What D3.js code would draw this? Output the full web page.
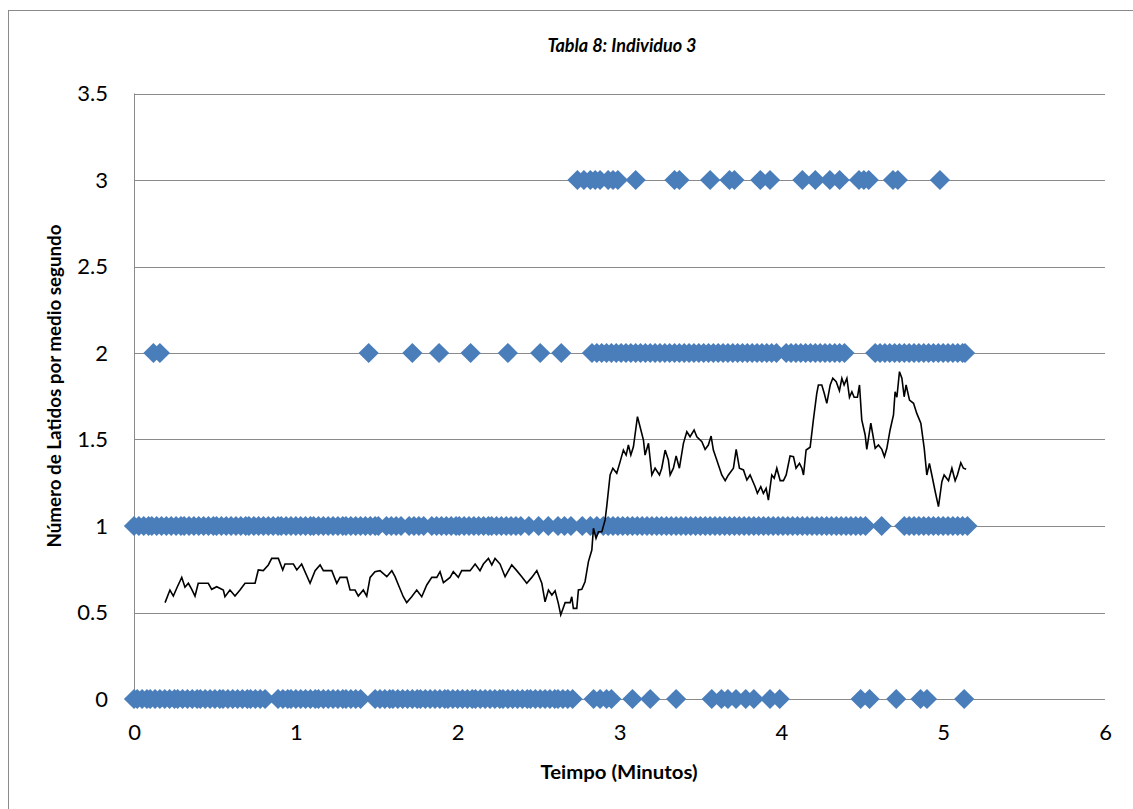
<!DOCTYPE html>
<html>
<head>
<meta charset="utf-8">
<script src="https://cdn.jsdelivr.net/npm/d3@7"></script>
<style>
  html, body { margin: 0; padding: 0; background: #fff; }
  svg { display: block; }
</style>
</head>
<body>
<svg id="chart" width="1133" height="809"></svg>
<script>
// ---------------- DATA ----------------
const chartTitle = "Tabla 8: Individuo 3";
const xTitle = "Teimpo (Minutos)";
const yTitle = "Número de Latidos por medio segundo";
const xTicks = [0, 1, 2, 3, 4, 5, 6];
const yTicks = [0, 0.5, 1, 1.5, 2, 2.5, 3, 3.5];

// Scatter points (time in minutes) at each beat level
const level0 = [0.00,0.02,0.05,0.08,0.10,0.13,0.16,0.19,0.22,0.25,0.27,0.30,0.33,0.36,0.39,0.41,0.44,0.47,0.50,0.53,0.55,0.58,0.61,0.64,0.67,0.70,0.72,0.75,0.78,0.81,
  0.89,0.92,0.95,0.97,1.00,1.03,1.06,1.09,1.12,1.14,1.17,1.20,1.23,1.26,1.29,1.31,1.34,1.37,1.40,
  1.49,1.52,1.55,1.58,1.60,1.63,1.66,1.69,1.72,1.75,1.77,1.80,1.83,1.86,1.89,1.92,1.94,1.97,2.00,2.03,2.06,2.09,2.11,2.14,2.17,2.20,2.23,2.26,2.28,2.31,2.34,2.37,2.40,2.43,2.45,2.48,2.51,2.54,2.57,2.60,2.62,2.65,2.68,2.71,
  2.84,2.88,2.92,2.95,3.08,3.19,3.35,3.57,3.63,3.67,3.72,3.78,3.83,3.93,3.99,4.49,4.545,4.71,4.86,4.90,5.13];
const level1 = [0.00,0.03,0.06,0.09,0.11,0.14,0.17,0.20,0.23,0.26,0.29,0.31,0.34,0.37,0.40,0.43,0.46,0.49,0.51,0.54,0.57,0.60,0.63,0.66,0.69,0.71,0.74,0.77,0.80,0.83,0.86,0.89,0.91,0.94,0.97,1.00,1.03,1.06,1.09,1.11,1.14,1.17,1.20,1.23,1.26,1.29,1.31,1.34,1.37,1.40,1.43,1.46,1.49,1.51,1.56,1.59,1.62,1.65,1.70,1.73,1.76,1.79,1.84,1.87,1.90,1.93,1.96,1.99,2.01,2.04,2.07,2.10,2.13,2.16,2.19,2.21,2.24,2.27,2.30,2.33,2.36,2.39,2.44,2.50,2.56,2.62,2.66,2.70,2.77,2.82,2.86,2.90,2.93,2.96,2.99,3.02,3.05,3.08,3.11,3.14,3.17,3.20,3.23,3.26,3.29,3.32,3.35,3.38,3.41,3.44,3.47,3.50,3.53,3.56,3.59,3.62,3.65,3.68,3.71,3.74,3.77,3.80,3.83,3.86,3.89,3.92,3.95,3.98,4.01,4.04,4.07,4.10,4.13,4.16,4.19,4.22,4.25,4.28,4.31,4.34,4.37,4.40,4.43,4.46,4.49,4.52,4.62,4.76,4.79,4.82,4.85,4.88,4.91,4.94,4.97,5.00,5.03,5.06,5.09,5.12,5.15];
const level2 = [0.12,0.16,1.45,1.72,1.885,2.08,2.31,2.51,2.64,
  2.83,2.86,2.89,2.92,2.95,2.98,3.01,3.04,3.07,3.10,3.13,3.16,3.19,3.22,3.25,3.28,3.31,3.34,3.37,3.40,3.43,3.46,3.49,3.52,3.55,3.58,3.61,3.64,3.67,3.70,3.73,3.76,3.79,3.82,3.85,3.88,3.91,3.94,3.97,4.03,4.06,4.09,4.12,4.15,4.18,4.21,4.24,4.27,4.30,4.33,4.36,4.39,
  4.58,4.61,4.64,4.67,4.70,4.73,4.76,4.79,4.82,4.85,4.88,4.91,4.94,4.97,5.00,5.03,5.06,5.09,5.12,5.135];
const level3 = [2.74,2.78,2.82,2.85,2.88,2.93,2.96,2.99,3.10,3.34,3.37,3.56,3.68,3.71,3.87,3.93,4.13,4.21,4.30,4.36,4.48,4.51,4.54,4.69,4.72,4.98];

// Moving-average line (time in minutes, beats per half second)
const avgX = [0.192,0.222,0.243,0.268,0.295,0.315,0.336,0.357,0.377,0.397,0.459,0.480,0.511,0.552,0.562,0.593,0.624,0.655,0.686,0.748,0.768,0.799,0.830,0.851,0.892,0.919,0.933,0.985,1.006,1.036,1.088,1.119,1.150,1.170,1.222,1.253,1.273,1.315,1.335,1.366,1.386,1.417,1.438,1.459,1.489,1.520,1.562,1.593,1.613,1.634,1.664,1.685,1.716,1.747,1.778,1.809,1.840,1.871,1.891,1.912,1.953,1.973,2.004,2.025,2.077,2.108,2.138,2.159,2.190,2.211,2.231,2.262,2.293,2.334,2.365,2.396,2.427,2.458,2.489,2.520,2.540,2.561,2.582,2.602,2.622,2.637,2.664,2.695,2.705,2.715,2.736,2.746,2.767,2.787,2.808,2.829,2.839,2.855,2.870,2.891,2.911,2.921,2.942,2.959,2.983,3.004,3.024,3.041,3.055,3.070,3.086,3.111,3.127,3.148,3.158,3.179,3.200,3.220,3.247,3.261,3.282,3.302,3.313,3.333,3.350,3.370,3.395,3.416,3.436,3.461,3.478,3.509,3.529,3.549,3.566,3.580,3.601,3.632,3.653,3.673,3.704,3.721,3.741,3.766,3.787,3.807,3.838,3.852,3.873,3.889,3.906,3.920,3.941,3.956,3.972,3.993,4.013,4.030,4.054,4.075,4.091,4.112,4.127,4.137,4.153,4.178,4.198,4.219,4.229,4.250,4.265,4.281,4.302,4.318,4.339,4.359,4.374,4.388,4.405,4.421,4.436,4.450,4.470,4.483,4.497,4.518,4.528,4.553,4.580,4.600,4.621,4.637,4.652,4.672,4.693,4.703,4.714,4.730,4.745,4.759,4.771,4.792,4.817,4.837,4.862,4.883,4.899,4.915,4.930,4.951,4.971,4.992,5.006,5.033,5.054,5.074,5.088,5.109,5.125,5.142];
const avgY = [0.557,0.630,0.595,0.649,0.703,0.646,0.669,0.634,0.595,0.669,0.669,0.634,0.649,0.630,0.591,0.630,0.595,0.630,0.669,0.669,0.746,0.742,0.775,0.813,0.813,0.746,0.780,0.780,0.746,0.780,0.669,0.742,0.775,0.742,0.742,0.669,0.703,0.703,0.630,0.630,0.595,0.630,0.595,0.703,0.736,0.742,0.707,0.742,0.707,0.659,0.591,0.557,0.591,0.630,0.591,0.659,0.703,0.703,0.736,0.672,0.703,0.736,0.703,0.742,0.742,0.780,0.742,0.780,0.813,0.775,0.813,0.780,0.707,0.775,0.742,0.707,0.669,0.703,0.742,0.669,0.562,0.630,0.601,0.626,0.553,0.486,0.557,0.557,0.591,0.524,0.524,0.630,0.634,0.678,0.794,0.861,0.987,0.929,0.967,0.967,1.035,1.112,1.295,1.334,1.305,1.372,1.439,1.410,1.468,1.410,1.458,1.632,1.574,1.497,1.410,1.478,1.295,1.334,1.295,1.334,1.439,1.382,1.295,1.334,1.405,1.334,1.478,1.545,1.516,1.555,1.516,1.487,1.443,1.468,1.520,1.439,1.382,1.295,1.262,1.295,1.334,1.443,1.334,1.324,1.266,1.295,1.227,1.189,1.227,1.189,1.218,1.150,1.295,1.276,1.334,1.262,1.262,1.295,1.405,1.401,1.334,1.362,1.334,1.295,1.439,1.455,1.613,1.767,1.815,1.815,1.767,1.709,1.815,1.854,1.834,1.782,1.854,1.815,1.854,1.744,1.776,1.744,1.744,1.815,1.613,1.526,1.443,1.594,1.449,1.468,1.443,1.401,1.449,1.555,1.642,1.776,1.744,1.892,1.854,1.747,1.815,1.728,1.709,1.651,1.594,1.449,1.295,1.362,1.295,1.198,1.112,1.256,1.295,1.262,1.334,1.262,1.295,1.366,1.334,1.328];

// ---------------- DRAW ----------------
const svg = d3.select("#chart");
const grid = "#8a8a8a";
const blue = "#4A7EBB";

// outer chart border
svg.append("rect").attr("x", 8.5).attr("y", 10.5).attr("width", 1200).attr("height", 900)
  .attr("fill", "none").attr("stroke", grid).attr("stroke-width", 1);

const x = d3.scaleLinear().domain([0, 6]).range([134, 1105]);
const y = d3.scaleLinear().domain([0, 3.5]).range([699, 93.5]);

// horizontal gridlines
svg.append("g").selectAll("line").data(yTicks).join("line")
  .attr("x1", x(0)).attr("x2", x(6))
  .attr("y1", d => Math.round(y(d)) + 0.5).attr("y2", d => Math.round(y(d)) + 0.5)
  .attr("stroke", grid).attr("stroke-width", 1);

// left axis line
svg.append("line").attr("x1", x(0) + 0.5).attr("x2", x(0) + 0.5)
  .attr("y1", y(3.5)).attr("y2", y(0))
  .attr("stroke", grid).attr("stroke-width", 1);

// tick labels via axes (no tick lines)
const yAxis = d3.axisLeft(y).tickValues(yTicks).tickSize(0).tickPadding(26).tickFormat(d3.format("~g"));
const gy = svg.append("g").attr("transform", `translate(${x(0)},0)`).call(yAxis);
gy.select(".domain").remove();
gy.selectAll("text").attr("font-family", "Lato, 'Open Sans', sans-serif").attr("font-size", 22).attr("fill", "#000");

const xAxis = d3.axisBottom(x).tickValues(xTicks).tickSize(0).tickPadding(25).tickFormat(d3.format("~g"));
const gx = svg.append("g").attr("transform", `translate(0,${y(0)})`).call(xAxis);
gx.select(".domain").remove();
gx.selectAll("text").attr("font-family", "Lato, 'Open Sans', sans-serif").attr("font-size", 22).attr("fill", "#000");

// scatter diamonds
const pts = [];
[[0, level0], [1, level1], [2, level2], [3, level3]].forEach(([lv, arr]) => arr.forEach(t => pts.push({t, v: lv})));
const diamond = d3.symbol().type(d3.symbolSquare).size(205);
svg.append("g").selectAll("path").data(pts).join("path")
  .attr("d", diamond)
  .attr("transform", d => `translate(${x(d.t)},${y(d.v)}) rotate(45)`)
  .attr("fill", blue);

// moving average line
const lineData = avgX.map((t, i) => [t, avgY[i]]);
svg.append("path").datum(lineData)
  .attr("d", d3.line().x(d => x(d[0])).y(d => y(d[1])))
  .attr("fill", "none").attr("stroke", "#000").attr("stroke-width", 1.6)
  .attr("stroke-linejoin", "miter");

// titles
svg.append("text").attr("x", 622).attr("y", 52).attr("text-anchor", "middle")
  .attr("font-family", "Lato, sans-serif").attr("font-weight", "bold").attr("font-style", "italic")
  .attr("font-size", 18).text(chartTitle);

svg.append("text").attr("x", 619).attr("y", 779).attr("text-anchor", "middle")
  .attr("font-family", "Lato, sans-serif").attr("font-weight", "bold")
  .attr("font-size", 18.5).attr("textLength", 157).attr("lengthAdjust", "spacingAndGlyphs").text(xTitle);

svg.append("text").attr("transform", "translate(61,386) rotate(-90)").attr("text-anchor", "middle")
  .attr("font-family", "Lato, sans-serif").attr("font-weight", "bold")
  .attr("font-size", 18.5).attr("textLength", 323).attr("lengthAdjust", "spacingAndGlyphs").text(yTitle);
</script>
</body>
</html>
